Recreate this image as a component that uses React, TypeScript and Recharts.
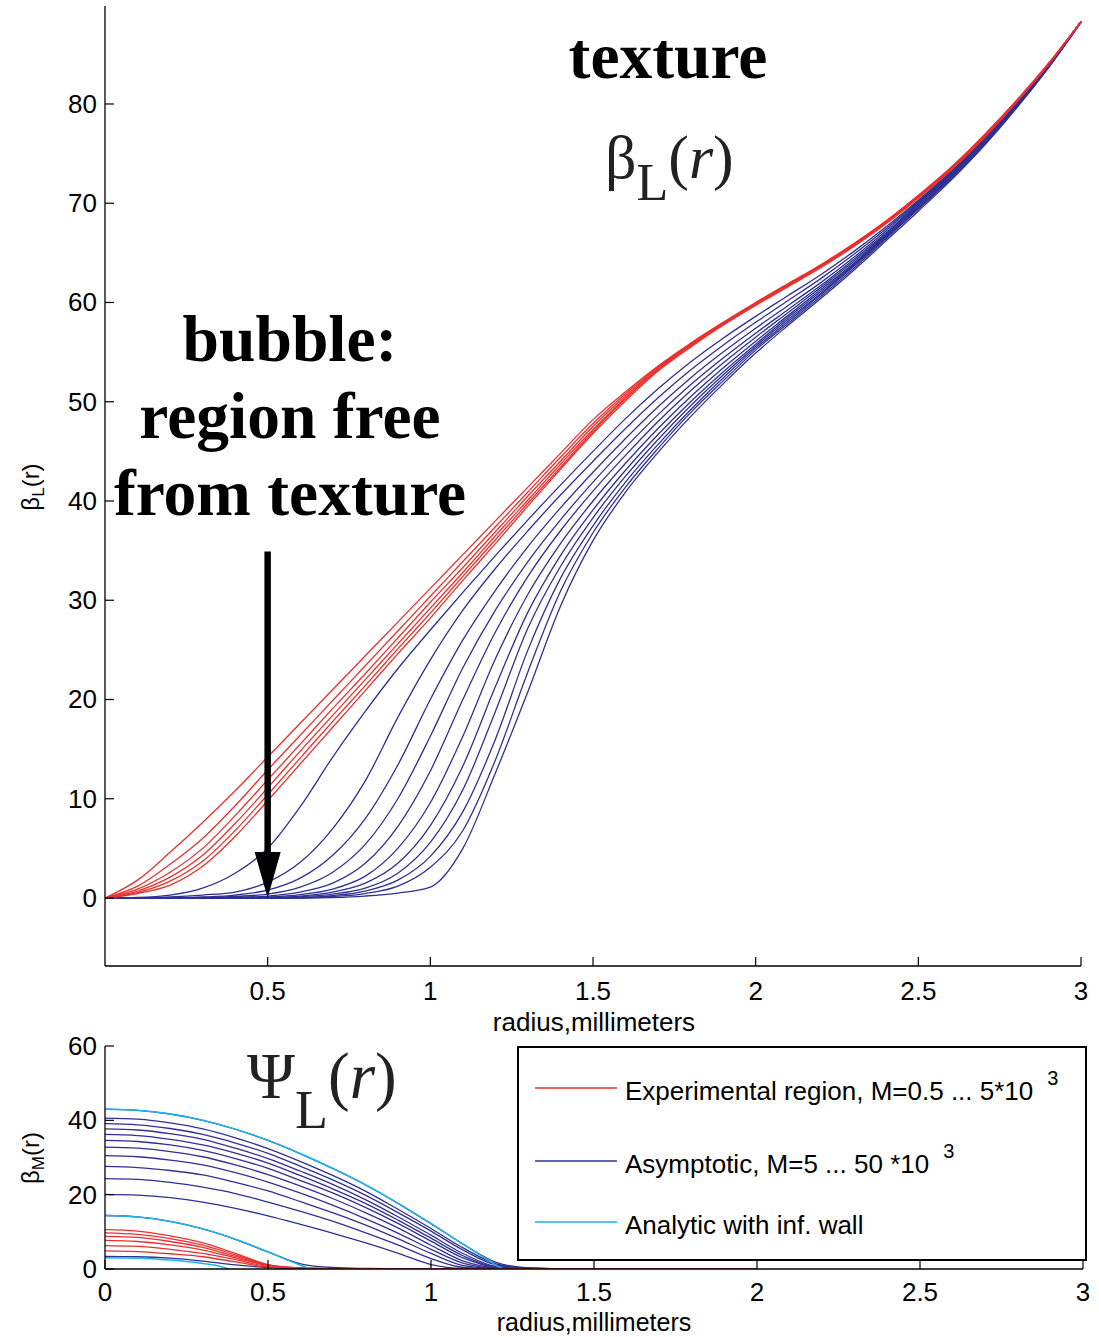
import React from "react";
import {
  LineChart,
  Line,
  XAxis,
  YAxis,
  ReferenceLine,
  ReferenceDot,
  Legend,
} from "recharts";

const SANS = '"Liberation Sans", Arial, Helvetica, sans-serif';
const SERIF = '"Liberation Serif", "Times New Roman", serif';

const RED = "#E8312F";
const BLUE = "#2E3192";
const CYAN = "#1CB5EA";

// ---------- top panel: beta_L(r) ----------
const rTop = [
  0, 0.1, 0.2, 0.3, 0.4, 0.5, 0.6, 0.7, 0.8, 0.9, 1.0, 1.1, 1.2, 1.3, 1.4, 1.5,
  1.6, 1.7, 1.8, 1.9, 2.0, 2.1, 2.2, 2.3, 2.4, 2.5, 2.6, 2.7, 2.8, 2.9, 3.0,
];

const redTop1 = [0, 1.8, 4.6, 7.6, 10.8, 14.2, 17.6, 21.0, 24.4, 27.8, 31.2, 34.6, 38.0, 41.4, 44.8, 48.2, 51.0, 53.6, 55.9, 58.0, 60.0, 61.9, 63.8, 65.9, 68.2, 70.8, 73.6, 76.8, 80.3, 84.1, 88.3];
const redTop2 = [0, 1.2, 3.4, 6.0, 9.3, 12.9, 16.4, 19.9, 23.4, 26.9, 30.4, 33.9, 37.4, 40.9, 44.4, 47.8, 50.8, 53.5, 55.8, 57.95, 59.95, 61.85, 63.75, 65.85, 68.15, 70.75, 73.55, 76.75, 80.25, 84.05, 88.3];
const redTop3 = [0, 0.9, 2.6, 5.0, 8.3, 11.9, 15.5, 19.1, 22.6, 26.2, 29.8, 33.3, 36.9, 40.5, 44.0, 47.5, 50.6, 53.4, 55.75, 57.9, 59.9, 61.8, 63.7, 65.8, 68.1, 70.7, 73.5, 76.7, 80.2, 84.0, 88.3];
const redTop4 = [0, 0.7, 2.1, 4.3, 7.5, 11.1, 14.8, 18.4, 22.0, 25.6, 29.2, 32.8, 36.5, 40.1, 43.7, 47.2, 50.4, 53.3, 55.7, 57.85, 59.85, 61.75, 63.65, 65.75, 68.05, 70.65, 73.45, 76.65, 80.2, 84.0, 88.3];
const redTop5 = [0, 0.55, 1.7, 3.7, 6.8, 10.4, 14.1, 17.8, 21.4, 25.1, 28.7, 32.4, 36.1, 39.8, 43.4, 47.0, 50.3, 53.2, 55.6, 57.8, 59.8, 61.7, 63.6, 65.7, 68.0, 70.6, 73.4, 76.6, 80.15, 84.0, 88.3];
const redTop6 = [0, 0.45, 1.3, 3.2, 6.2, 9.8, 13.5, 17.2, 20.9, 24.6, 28.2, 32.0, 35.7, 39.5, 43.2, 46.8, 50.1, 53.1, 55.5, 57.7, 59.7, 61.6, 63.5, 65.6, 67.9, 70.5, 73.3, 76.5, 80.1, 83.95, 88.3];

const blueTop1 = [0, 0.05, 0.3, 1.0, 2.5, 5.0, 9.2, 14.2, 18.8, 23.1, 27.0, 30.8, 34.5, 38.1, 41.6, 45.0, 48.3, 51.3, 54.0, 56.4, 58.6, 60.7, 62.8, 65.1, 67.6, 70.3, 73.2, 76.4, 80.0, 84.0, 88.3];
const blueTop2 = [0, 0, 0.1, 0.3, 0.6, 1.6, 3.6, 7.0, 11.8, 18.2, 24.0, 29.0, 33.2, 37.0, 40.6, 44.0, 47.3, 50.4, 53.2, 55.7, 58.0, 60.2, 62.4, 64.8, 67.4, 70.2, 73.1, 76.4, 80.0, 83.95, 88.3];
const blueTop3 = [0, 0, 0, 0.1, 0.3, 0.8, 2.0, 4.3, 8.0, 13.4, 20.0, 26.0, 31.0, 35.4, 39.3, 42.9, 46.3, 49.5, 52.4, 55.0, 57.4, 59.7, 62.0, 64.5, 67.2, 70.1, 73.0, 76.3, 79.95, 83.9, 88.3];
const blueTop4 = [0, 0, 0, 0.05, 0.15, 0.4, 1.1, 2.6, 5.4, 10.0, 16.3, 23.2, 29.0, 33.9, 38.1, 41.9, 45.4, 48.7, 51.7, 54.4, 56.9, 59.3, 61.7, 64.3, 67.0, 70.0, 72.95, 76.25, 79.9, 83.9, 88.3];
const blueTop5 = [0, 0, 0, 0, 0.05, 0.2, 0.6, 1.5, 3.5, 7.2, 12.8, 20.0, 26.8, 32.4, 37.0, 41.0, 44.6, 48.0, 51.1, 53.9, 56.5, 59.0, 61.5, 64.1, 66.9, 69.9, 72.9, 76.2, 79.85, 83.85, 88.3];
const blueTop6 = [0, 0, 0, 0, 0, 0.1, 0.35, 0.9, 2.2, 5.0, 9.6, 16.3, 24.1, 30.6, 35.7, 40.0, 43.8, 47.3, 50.5, 53.4, 56.1, 58.7, 61.3, 63.9, 66.8, 69.8, 72.8, 76.1, 79.8, 83.8, 88.3];
const blueTop7 = [0, 0, 0, 0, 0, 0.05, 0.2, 0.6, 1.5, 3.5, 7.3, 13.3, 21.3, 28.8, 34.5, 39.1, 43.1, 46.7, 50.0, 53.0, 55.8, 58.5, 61.1, 63.8, 66.7, 69.7, 72.7, 76.0, 79.75, 83.8, 88.3];
const blueTop8 = [0, 0, 0, 0, 0, 0, 0.12, 0.4, 1.0, 2.5, 5.6, 10.9, 18.8, 27.2, 33.4, 38.3, 42.5, 46.2, 49.6, 52.7, 55.6, 58.3, 60.9, 63.7, 66.6, 69.6, 72.6, 75.9, 79.7, 83.75, 88.3];
const blueTop9 = [0, 0, 0, 0, 0, 0, 0.05, 0.25, 0.7, 1.8, 4.2, 8.7, 16.0, 25.0, 32.2, 37.5, 41.9, 45.7, 49.2, 52.4, 55.4, 58.1, 60.8, 63.6, 66.5, 69.5, 72.5, 75.85, 79.65, 83.7, 88.3];
const blueTop10 = [0, 0, 0, 0, 0, 0, 0, 0.15, 0.45, 1.2, 3.1, 6.8, 13.9, 22.8, 30.9, 36.8, 41.4, 45.3, 48.9, 52.1, 55.2, 57.9, 60.6, 63.4, 66.4, 69.4, 72.4, 75.8, 79.6, 83.7, 88.25];
const blueTop11 = [0, 0, 0, 0, 0, 0, 0, 0.05, 0.2, 0.5, 1.1, 5.0, 12.6, 20.8, 29.4, 36.0, 40.9, 44.9, 48.5, 51.8, 54.9, 57.7, 60.4, 63.2, 66.2, 69.2, 72.3, 75.7, 79.5, 83.65, 88.2];

const topReds = [redTop1, redTop2, redTop3, redTop4, redTop5, redTop6];
const topBlues = [blueTop1, blueTop2, blueTop3, blueTop4, blueTop5, blueTop6, blueTop7, blueTop8, blueTop9, blueTop10, blueTop11];

const xTicksTop = [0.5, 1, 1.5, 2, 2.5, 3];
const yTicksTop = [0, 10, 20, 30, 40, 50, 60, 70, 80];

// ---------- bottom panel: beta_M(r) ----------
const rBottom = [0, 0.1, 0.2, 0.3, 0.4, 0.5, 0.6, 0.7, 0.8, 0.9, 1.0, 1.1, 1.2, 1.3, 1.4, 1.6, 2.0];

const blueBot1 = [43.0, 42.7, 41.7, 40.0, 37.6, 34.6, 31.0, 27.0, 22.6, 17.6, 12.2, 6.6, 1.8, 0.3, 0.1, 0.03, 0];
const blueBot2 = [40.6, 40.3, 39.3, 37.7, 35.3, 32.4, 28.9, 25.1, 20.9, 16.0, 10.9, 5.6, 1.4, 0.22, 0.08, 0.02, 0];
const blueBot3 = [39.1, 38.8, 37.8, 36.2, 33.9, 31.1, 27.6, 23.9, 19.8, 15.1, 10.2, 5.0, 1.1, 0.2, 0.07, 0.02, 0];
const blueBot4 = [37.7, 37.4, 36.4, 34.9, 32.5, 29.7, 26.3, 22.7, 18.6, 14.0, 9.1, 4.1, 0.7, 0.15, 0.06, 0.02, 0];
const blueBot5 = [36.2, 35.9, 34.9, 33.4, 31.2, 28.5, 25.1, 21.5, 17.6, 13.1, 8.3, 3.5, 0.55, 0.13, 0.05, 0.01, 0];
const blueBot6 = [34.6, 34.3, 33.4, 31.9, 29.7, 27.1, 23.8, 20.4, 16.5, 12.2, 7.5, 2.9, 0.45, 0.11, 0.04, 0.01, 0];
const blueBot7 = [32.8, 32.5, 31.6, 30.2, 28.0, 25.4, 22.3, 18.9, 15.1, 11.0, 6.4, 2.1, 0.32, 0.09, 0.04, 0.01, 0];
const blueBot8 = [30.5, 30.2, 29.3, 28.0, 25.9, 23.4, 20.4, 17.1, 13.5, 9.6, 5.3, 1.5, 0.22, 0.07, 0.03, 0.01, 0];
const blueBot9 = [27.6, 27.3, 26.5, 25.3, 23.3, 21.0, 18.1, 15.1, 11.8, 8.1, 4.2, 0.9, 0.14, 0.05, 0.02, 0.01, 0];
const blueBot10 = [24.3, 24.1, 23.3, 22.0, 20.3, 18.0, 15.5, 12.8, 9.7, 6.4, 2.8, 0.4, 0.08, 0.03, 0.01, 0, 0];
const blueBot11 = [20.1, 19.9, 19.2, 18.0, 16.3, 14.3, 12.0, 9.6, 7.0, 4.2, 1.2, 0.15, 0.05, 0.02, 0, 0, 0];
const blueBot12 = [14.4, 14.0, 12.8, 10.8, 8.0, 4.6, 1.4, 0.4, 0.15, 0.05, 0.02, 0, 0, 0, 0, 0, 0];
const blueBot13 = [3.4, 3.3, 2.9, 2.1, 1.1, 0.4, 0.12, 0.04, 0.01, 0, 0, 0, 0, 0, 0, 0, 0];

const redBot1 = [10.6, 10.2, 8.9, 7.0, 4.2, 1.2, 0.3, 0.12, 0.07, 0.05, 0.04, 0.03, 0.02, 0.01, 0, 0, 0];
const redBot2 = [9.7, 9.3, 8.2, 6.4, 3.8, 1.1, 0.27, 0.11, 0.06, 0.05, 0.04, 0.03, 0.02, 0.01, 0, 0, 0];
const redBot3 = [8.8, 8.5, 7.4, 5.8, 3.4, 1.0, 0.25, 0.1, 0.05, 0.04, 0.03, 0.02, 0.01, 0, 0, 0, 0];
const redBot4 = [7.7, 7.4, 6.5, 5.1, 3.0, 0.9, 0.22, 0.09, 0.05, 0.04, 0.03, 0.02, 0.01, 0, 0, 0, 0];
const redBot5 = [6.3, 6.1, 5.3, 4.2, 2.5, 0.7, 0.2, 0.08, 0.05, 0.03, 0.02, 0.01, 0, 0, 0, 0, 0];
const redBot6 = [4.9, 4.7, 4.1, 3.3, 1.9, 0.55, 0.16, 0.07, 0.04, 0.03, 0.02, 0.01, 0, 0, 0, 0, 0];

// analytic curves (infinite wall) end at their wall radius
const analyticR1 = [0, 0.1, 0.2, 0.3, 0.4, 0.5, 0.6, 0.7, 0.8, 0.9, 1.0, 1.1, 1.15, 1.2, 1.22];
const analytic1 = [43.0, 42.7, 41.7, 40.0, 37.6, 34.6, 31.0, 27.0, 22.6, 17.6, 12.2, 6.6, 3.8, 1.0, 0];
const analyticR2 = [0, 0.1, 0.2, 0.3, 0.4, 0.5, 0.55, 0.6, 0.63];
const analytic2 = [14.4, 14.0, 12.8, 10.8, 8.0, 4.6, 2.8, 1.0, 0];
const analyticR3 = [0, 0.1, 0.2, 0.3, 0.35, 0.38];
const analytic3 = [3.0, 2.9, 2.4, 1.5, 0.8, 0];

const bottomBlues = [blueBot1, blueBot2, blueBot3, blueBot4, blueBot5, blueBot6, blueBot7, blueBot8, blueBot9, blueBot10, blueBot11, blueBot12, blueBot13];
const bottomReds = [redBot1, redBot2, redBot3, redBot4, redBot5, redBot6];
const analytics = [
  [analyticR1, analytic1],
  [analyticR2, analytic2],
  [analyticR3, analytic3],
];

const xTicksBottom = [0, 0.5, 1, 1.5, 2, 2.5, 3];
const yTicksBottom = [0, 20, 40, 60];

const legendItems = [
  { color: RED, label: "Experimental region, M=0.5 ... 5*10", sup: "3" },
  { color: BLUE, label: "Asymptotic, M=5 ... 50 *10", sup: "3" },
  { color: CYAN, label: "Analytic with inf. wall", sup: "" },
];

// table for the top chart
const topData = rTop.map((r, i) => {
  const row: Record<string, number> = { r };
  topReds.forEach((s, k) => (row[`red${k}`] = s[i]));
  topBlues.forEach((s, k) => (row[`blue${k}`] = s[i]));
  return row;
});

const toPoints = (rs: number[], vs: number[]) =>
  rs.map((r, i) => ({ r, v: vs[i] }));

// matlab style ticks: mark points inward, label outside
const YTick = (props: any) => {
  const { x, y, payload } = props;
  return (
    <g>
      <line x1={x} x2={x + 9} y1={y} y2={y} stroke="#000" strokeWidth={1.2} />
      <text x={x - 8} y={y + 9} textAnchor="end" fontFamily={SANS} fontSize={26} fill="#000">
        {payload.value}
      </text>
    </g>
  );
};

const XTick = (props: any) => {
  const { x, y, payload, labelGap = 34 } = props;
  return (
    <g>
      <line x1={x} x2={x} y1={y} y2={y - 9} stroke="#000" strokeWidth={1.2} />
      <text x={x} y={y + labelGap} textAnchor="middle" fontFamily={SANS} fontSize={26} fill="#000">
        {payload.value}
      </text>
    </g>
  );
};

const ArrowHead = (props: any) => {
  const { cx, cy } = props;
  return <polygon points={`${cx - 13},${cy - 46} ${cx + 13},${cy - 46} ${cx},${cy}`} fill="#000" />;
};

const renderLegend = () => (
  <div
    style={{
      width: 566,
      height: 211,
      border: "2px solid #000",
      background: "#fff",
      position: "relative",
      fontFamily: SANS,
      fontSize: 26,
      color: "#000",
    }}
  >
    {legendItems.map((it, i) => (
      <div
        key={i}
        style={{
          position: "absolute",
          left: 16,
          top: [27, 100, 161][i],
          height: 32,
          display: "flex",
          alignItems: "center",
          whiteSpace: "nowrap",
        }}
      >
        <svg width={82} height={4} style={{ marginTop: -6 }}>
          <line x1={0} x2={82} y1={2} y2={2} stroke={it.color} strokeWidth={1.3} />
        </svg>
        <span style={{ marginLeft: 8 }}>{it.label}</span>
        {it.sup && (
          <span style={{ fontSize: 20, marginLeft: 14, position: "relative", top: -13 }}>{it.sup}</span>
        )}
      </div>
    ))}
  </div>
);

export default function App() {
  return (
    <div style={{ position: "absolute", left: 0, top: 0, width: 1099, height: 1337, background: "#fff" }}>
      <div style={{ position: "absolute", left: 0, top: 0 }}>
        <LineChart width={1099} height={1040} data={topData} margin={{ top: 6, right: 18, bottom: 14, left: 45 }}>
          <XAxis
            dataKey="r"
            type="number"
            domain={[0, 3]}
            ticks={xTicksTop}
            height={60}
            tickSize={0}
            tickMargin={0}
            tick={<XTick />}
            axisLine={{ stroke: "#000", strokeWidth: 1.3 }}
          />
          <YAxis
            type="number"
            domain={[-6.85, 89.87]}
            allowDataOverflow
            ticks={yTicksTop}
            width={60}
            tickSize={0}
            tickMargin={0}
            tick={<YTick />}
            axisLine={{ stroke: "#000", strokeWidth: 1.3 }}
          />
          {topBlues.map((_, k) => (
            <Line
              key={`b${k}`}
              dataKey={`blue${k}`}
              type="monotone"
              stroke={BLUE}
              strokeWidth={1.3}
              dot={false}
              isAnimationActive={false}
            />
          ))}
          {topReds.map((_, k) => (
            <Line
              key={`r${k}`}
              dataKey={`red${k}`}
              type="monotone"
              stroke={RED}
              strokeWidth={1.3}
              dot={false}
              isAnimationActive={false}
            />
          ))}
          <ReferenceLine
            segment={[
              { x: 0.5, y: 34.9 },
              { x: 0.5, y: 4.4 },
            ]}
            stroke="#000"
            strokeWidth={6.5}
          />
          <ReferenceDot x={0.5} y={0} r={1} shape={<ArrowHead />} />
        </LineChart>
      </div>

      <div style={{ position: "absolute", left: 0, top: 1030 }}>
        <LineChart width={1099} height={307} margin={{ top: 16, right: 16, bottom: 8, left: 45 }}>
          <XAxis
            dataKey="r"
            type="number"
            domain={[0, 3]}
            ticks={xTicksBottom}
            height={60}
            tickSize={0}
            tickMargin={0}
            tick={<XTick labelGap={32} />}
            axisLine={{ stroke: "#000", strokeWidth: 1.3 }}
            allowDuplicatedCategory={false}
          />
          <YAxis
            type="number"
            domain={[0, 60]}
            allowDataOverflow
            ticks={yTicksBottom}
            width={60}
            tickSize={0}
            tickMargin={0}
            tick={<YTick />}
            axisLine={{ stroke: "#000", strokeWidth: 1.3 }}
          />
          {bottomBlues.map((s, k) => (
            <Line
              key={`bb${k}`}
              data={toPoints(rBottom, s)}
              dataKey="v"
              type="monotone"
              stroke={BLUE}
              strokeWidth={1.3}
              dot={false}
              isAnimationActive={false}
            />
          ))}
          {bottomReds.map((s, k) => (
            <Line
              key={`rb${k}`}
              data={toPoints(rBottom, s)}
              dataKey="v"
              type="monotone"
              stroke={RED}
              strokeWidth={1.3}
              dot={false}
              isAnimationActive={false}
            />
          ))}
          {analytics.map(([rs, vs], k) => (
            <Line
              key={`c${k}`}
              data={toPoints(rs, vs)}
              dataKey="v"
              type="monotone"
              stroke={CYAN}
              strokeWidth={1.5}
              dot={false}
              isAnimationActive={false}
            />
          ))}
          <Legend
            layout="vertical"
            align="center"
            verticalAlign="middle"
            content={renderLegend}
            wrapperStyle={{ position: "absolute", left: 517, top: 16, width: 570, height: 215 }}
          />
        </LineChart>
      </div>

      <svg
        width={1099}
        height={1337}
        style={{ position: "absolute", left: 0, top: 0, pointerEvents: "none" }}
      >
        <g fontFamily={SERIF} fontWeight="bold" fontSize={65.5} textAnchor="middle" fill="#000">
          <text x={668} y={78}>texture</text>
          <text x={290} y={361}>bubble:</text>
          <text x={290} y={438}>region free</text>
          <text x={290} y={515}>from texture</text>
        </g>
        <text x={605} y={178} fontFamily={SERIF} fontSize={62} fill="#222">
          β<tspan fontSize={52} dy={22}>L</tspan>
          <tspan dy={-22}>(</tspan>
          <tspan fontStyle="italic">r</tspan>)
        </text>
        <text x={247} y={1098} fontFamily={SERIF} fontSize={65} fill="#222">
          Ψ<tspan fontSize={54} dy={30}>L</tspan>
          <tspan dy={-30}>(</tspan>
          <tspan fontStyle="italic">r</tspan>)
        </text>
        <text x={594} y={1031} fontFamily={SANS} fontSize={26} fill="#000" textAnchor="middle">
          radius,millimeters
        </text>
        <text x={594} y={1331} fontFamily={SANS} fontSize={25} fill="#000" textAnchor="middle">
          radius,millimeters
        </text>
        <g fontFamily={SANS} fontSize={24} fill="#000" textAnchor="middle">
          <text x={39} y={487} transform="rotate(-90 39 487)">
            β<tspan fontSize={17} dy={5}>L</tspan>
            <tspan dy={-5}>(r)</tspan>
          </text>
          <text x={39} y={1158} transform="rotate(-90 39 1158)">
            β<tspan fontSize={17} dy={5}>M</tspan>
            <tspan dy={-5}>(r)</tspan>
          </text>
        </g>
      </svg>
    </div>
  );
}
